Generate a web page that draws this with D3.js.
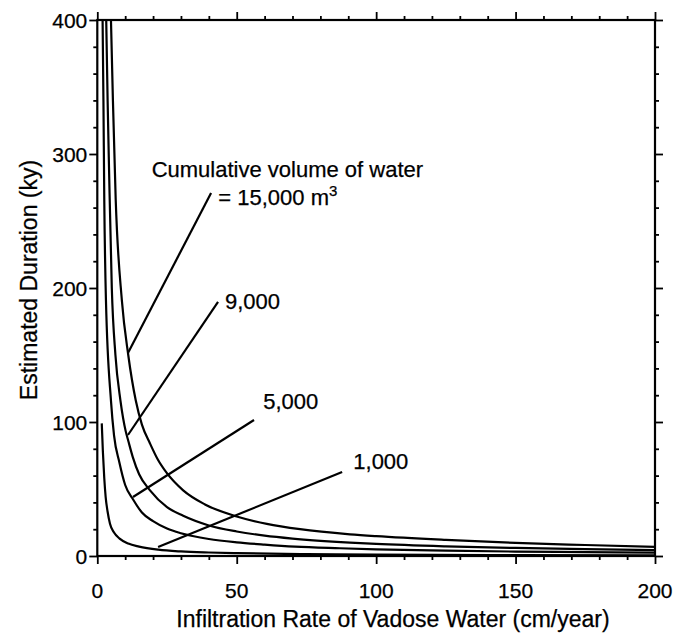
<!DOCTYPE html><html lang="en"><head><meta charset="UTF-8"><title>Estimated Duration vs Infiltration Rate</title><script src="https://d3js.org/d3.v7.min.js"></script><style>
        body { margin: 0; background: #fff; }
        svg { display: block; }
        text { font-family: "Liberation Sans", Arial, sans-serif; fill: #000; stroke: #000; stroke-width: 0.25px; }
        .curve, .leader { fill: none; stroke: #000; stroke-width: 2.2px; }
        .frame { fill: none; stroke: #000; stroke-width: 2.2px; }
        .tick line { stroke: #000; stroke-width: 1.8px; }
    </style></head><body><svg id="chart"></svg><script>
        // x = infiltration rate (cm/year), y = estimated duration (ky)
        const curve15000 = [[4.9, 400], [5.6, 340], [6.6, 266], [8.8, 191], [11.1, 150], [13.8, 116], [16, 98],
            [18.9, 84], [21.7, 72], [24.9, 62], [30.8, 49], [38.6, 38.5], [50, 29.5], [60.8, 24], [72.7, 20],
            [90.6, 16.2], [100, 14.8], [125, 12], [150, 9.8], [175, 8.2], [200, 6.8]];
        const curve9000 = [[3.2, 400], [3.7, 340], [4.2, 290], [5.2, 200], [6.5, 150], [8.3, 116], [10.2, 93],
            [11.1, 86], [12.7, 74], [15, 61], [18.9, 49], [25, 36.5], [30.8, 30], [40, 22.8], [50, 18.3], [60, 15.2],
            [70, 13], [90.6, 10], [100, 9], [125, 7.2], [150, 6], [175, 5.1], [200, 4.4]];
        const curve5000 = [[1.9, 400], [2.2, 340], [2.5, 266], [3.1, 191], [4.9, 116], [6, 90], [7.9, 70], [10, 53],
            [12.9, 42], [16, 32.5], [20, 26], [25, 20.5], [30, 17], [40, 12.7], [50, 10.2], [60, 8.5], [70.9, 7],
            [87, 5.8], [100, 5], [125, 4], [150, 3.3], [175, 2.85], [200, 2.5]];
        const curve1000 = [[1.6, 99], [2, 78], [2.5, 58], [3, 44], [3.7, 33], [4.55, 24], [6, 17.5], [8, 13],
            [11.1, 9.3], [15, 7], [21.9, 4.7], [30, 3.4], [40, 2.6], [50, 2.1], [75, 1.4], [100, 1.05], [150, 0.7], [200, 0.5]];
        const curves = [curve15000, curve9000, curve5000, curve1000];

        // leader lines: [from, to] in data units
        const leaders = [
            [[11.0, 151.5], [40.8, 270.9]],
            [[11.0, 90.3], [43.3, 189.6]],
            [[12.8, 44.0], [56.2, 101.5]],
            [[21.8, 6.7], [87.8, 62.7]]
        ];
        const labelText = ["9,000", "5,000", "1,000"];
        const labelPos = [[45.8, 184.3], [59.5, 109.7], [91.8, 64.9]];

        const xMajor = [0, 50, 100, 150, 200];
        const yMajor = [0, 100, 200, 300, 400];
        const xMinor = d3.range(0, 201, 10).filter(v => v % 50 !== 0);
        const yMinor = d3.range(0, 401, 20).filter(v => v % 100 !== 0);

        const width = 692, height = 633;
        const margin = { top: 20, right: 37, bottom: 77, left: 97.3 };

        const svg = d3.select("#chart").attr("width", width).attr("height", height);

        const x = d3.scaleLinear().domain([0, 200]).range([margin.left, width - margin.right]);
        const y = d3.scaleLinear().domain([0, 400]).range([height - margin.bottom, margin.top]);

        // ticks on all four sides, pointing outwards
        function ticks(axis, vals, size, pos) {
            const g = svg.append("g").attr("transform", pos)
                .call(axis.tickValues(vals).tickSize(size).tickFormat(""));
            g.select(".domain").remove();
            return g;
        }
        const yBot = y(0), yTop = y(400), xLeft = x(0), xRight = x(200);
        ticks(d3.axisBottom(x), xMinor, 4, `translate(0,${yBot})`);
        ticks(d3.axisBottom(x), xMajor, 8, `translate(0,${yBot})`);
        ticks(d3.axisTop(x), xMinor, 4, `translate(0,${yTop})`);
        ticks(d3.axisTop(x), xMajor, 8, `translate(0,${yTop})`);
        ticks(d3.axisLeft(y), yMinor, 4, `translate(${xLeft},0)`);
        ticks(d3.axisLeft(y), yMajor, 8, `translate(${xLeft},0)`);
        ticks(d3.axisRight(y), yMinor, 4, `translate(${xRight},0)`);
        ticks(d3.axisRight(y), yMajor, 8, `translate(${xRight},0)`);

        svg.append("rect").attr("class", "frame")
            .attr("x", xLeft).attr("y", yTop)
            .attr("width", xRight - xLeft).attr("height", yBot - yTop);

        // tick labels
        svg.selectAll(".xlab").data(xMajor).enter().append("text")
            .attr("x", d => x(d)).attr("y", yBot + 42)
            .attr("text-anchor", "middle").style("font-size", "21px")
            .text(d => d);
        svg.selectAll(".ylab").data(yMajor).enter().append("text")
            .attr("x", xLeft - 10).attr("y", d => y(d) + 7.5)
            .attr("text-anchor", "end").style("font-size", "21px")
            .text(d => d);

        // axis titles
        svg.append("text")
            .attr("x", 393).attr("y", 627)
            .attr("text-anchor", "middle").style("font-size", "23px")
            .text("Infiltration Rate of Vadose Water (cm/year)");
        svg.append("text")
            .attr("transform", `translate(37,${(yTop + yBot) / 2 - 8}) rotate(-90)`)
            .attr("text-anchor", "middle").style("font-size", "23px")
            .text("Estimated Duration (ky)");

        // curves
        const line = d3.line().x(d => x(d[0])).y(d => y(d[1])).curve(d3.curveMonotoneX);
        svg.selectAll(".curve").data(curves).enter().append("path")
            .attr("class", "curve").attr("d", line);

        // leader lines and labels
        svg.selectAll(".leader").data(leaders).enter().append("line")
            .attr("class", "leader")
            .attr("x1", d => x(d[0][0])).attr("y1", d => y(d[0][1]))
            .attr("x2", d => x(d[1][0])).attr("y2", d => y(d[1][1]));

        svg.append("text").attr("x", x(19.5)).attr("y", y(282.8))
            .style("font-size", "22px").text("Cumulative volume of water");
        const t15 = svg.append("text").attr("x", x(43.4)).attr("y", y(261.9))
            .style("font-size", "22px");
        t15.append("tspan").text("= 15,000 m");
        t15.append("tspan").attr("dy", -9).style("font-size", "15px").text("3");

        svg.selectAll(".vlab").data(labelText).enter().append("text")
            .attr("x", (d, i) => x(labelPos[i][0])).attr("y", (d, i) => y(labelPos[i][1]))
            .style("font-size", "22px").text(d => d);
    </script></body></html>
